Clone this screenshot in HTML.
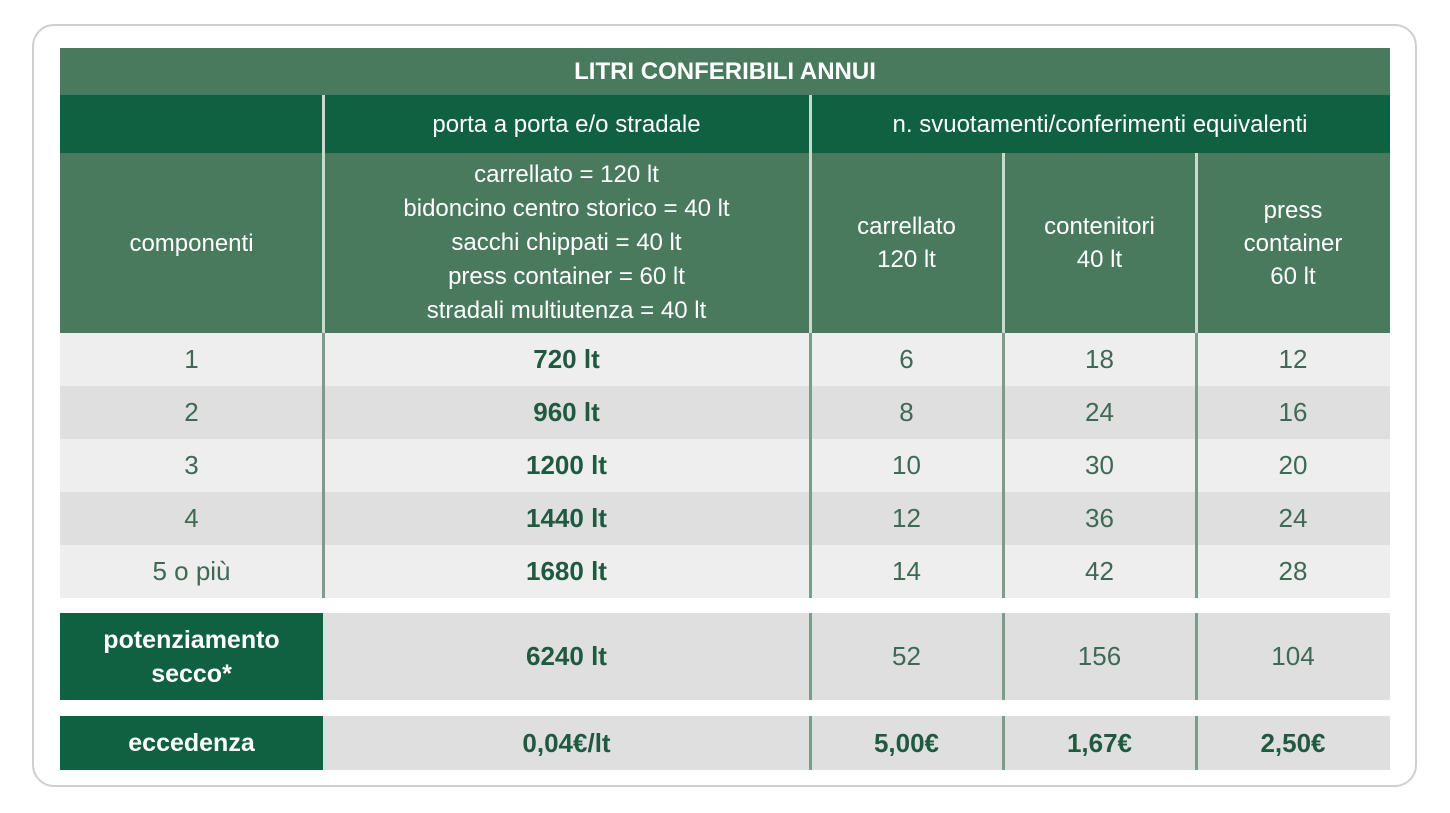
<!DOCTYPE html><html><head><style>
body{margin:0;width:1450px;height:813px;background:#fff;font-family:"Liberation Sans",sans-serif;position:relative;overflow:hidden}
.frame{position:absolute;left:32px;top:24px;width:1385px;height:763px;border:2px solid #cfcfcf;border-radius:22px;box-sizing:border-box}
.c{position:absolute;display:flex;align-items:center;justify-content:center;text-align:center;box-sizing:border-box}
.l{background:#4a7a5e;color:#fff}.d{background:#106042;color:#fff}
.g1{background:#eeeeee}.g2{background:#dfdfdf}
.t{color:#3d6a55;font-size:26px}.b{color:#1f5a40;font-weight:bold;font-size:26px}
.h{font-size:24px;line-height:33px}
.vl{position:absolute;width:3px;background:#7a9c8a}
.vw{position:absolute;width:3px;background:#c9d9cf}
</style></head><body>
<div class="frame"></div>
<div class="c l" style="left:60px;top:48px;width:1330px;height:47px;font-size:24px;font-weight:bold">LITRI CONFERIBILI ANNUI</div>
<div class="c d h" style="left:60px;top:95px;width:1330px;height:58px"></div>
<div class="c d h" style="left:323px;top:95px;width:487px;height:58px">porta a porta e/o stradale</div>
<div class="c d h" style="left:810px;top:95px;width:580px;height:58px">n. svuotamenti/conferimenti equivalenti</div>
<div class="c l h" style="left:60px;top:153px;width:263px;height:180px">componenti</div>
<div class="c l h" style="left:323px;top:153px;width:487px;height:180px;line-height:34px">carrellato = 120 lt<br>bidoncino centro storico = 40 lt<br>sacchi chippati = 40 lt<br>press container = 60 lt<br>stradali multiutenza = 40 lt</div>
<div class="c l h" style="left:810px;top:153px;width:193px;height:180px">carrellato<br>120 lt</div>
<div class="c l h" style="left:1003px;top:153px;width:193px;height:180px">contenitori<br>40 lt</div>
<div class="c l h" style="left:1196px;top:153px;width:194px;height:180px">press<br>container<br>60 lt</div>
<div class="vw" style="left:322px;top:95px;height:238px"></div>
<div class="vw" style="left:809px;top:95px;height:238px"></div>
<div class="vw" style="left:1002px;top:153px;height:180px"></div>
<div class="vw" style="left:1195px;top:153px;height:180px"></div>

<div class="c g1" style="left:60px;top:333px;width:1330px;height:53px"></div>
<div class="c g2" style="left:60px;top:386px;width:1330px;height:53px"></div>
<div class="c g1" style="left:60px;top:439px;width:1330px;height:53px"></div>
<div class="c g2" style="left:60px;top:492px;width:1330px;height:53px"></div>
<div class="c g1" style="left:60px;top:545px;width:1330px;height:53px"></div>
<div class="c g2" style="left:323px;top:613px;width:1067px;height:87px"></div>
<div class="c g2" style="left:323px;top:716px;width:1067px;height:54px"></div>

<!-- rows -->
<div class="c t" style="left:60px;top:333px;width:263px;height:53px">1</div>
<div class="c b" style="left:323px;top:333px;width:487px;height:53px">720 lt</div>
<div class="c t" style="left:810px;top:333px;width:193px;height:53px">6</div>
<div class="c t" style="left:1003px;top:333px;width:193px;height:53px">18</div>
<div class="c t" style="left:1196px;top:333px;width:194px;height:53px">12</div>

<div class="c t" style="left:60px;top:386px;width:263px;height:53px">2</div>
<div class="c b" style="left:323px;top:386px;width:487px;height:53px">960 lt</div>
<div class="c t" style="left:810px;top:386px;width:193px;height:53px">8</div>
<div class="c t" style="left:1003px;top:386px;width:193px;height:53px">24</div>
<div class="c t" style="left:1196px;top:386px;width:194px;height:53px">16</div>

<div class="c t" style="left:60px;top:439px;width:263px;height:53px">3</div>
<div class="c b" style="left:323px;top:439px;width:487px;height:53px">1200 lt</div>
<div class="c t" style="left:810px;top:439px;width:193px;height:53px">10</div>
<div class="c t" style="left:1003px;top:439px;width:193px;height:53px">30</div>
<div class="c t" style="left:1196px;top:439px;width:194px;height:53px">20</div>

<div class="c t" style="left:60px;top:492px;width:263px;height:53px">4</div>
<div class="c b" style="left:323px;top:492px;width:487px;height:53px">1440 lt</div>
<div class="c t" style="left:810px;top:492px;width:193px;height:53px">12</div>
<div class="c t" style="left:1003px;top:492px;width:193px;height:53px">36</div>
<div class="c t" style="left:1196px;top:492px;width:194px;height:53px">24</div>

<div class="c t" style="left:60px;top:545px;width:263px;height:53px">5 o più</div>
<div class="c b" style="left:323px;top:545px;width:487px;height:53px">1680 lt</div>
<div class="c t" style="left:810px;top:545px;width:193px;height:53px">14</div>
<div class="c t" style="left:1003px;top:545px;width:193px;height:53px">42</div>
<div class="c t" style="left:1196px;top:545px;width:194px;height:53px">28</div>

<div class="c d" style="left:60px;top:613px;width:263px;height:87px;font-size:25px;font-weight:bold;line-height:34px">potenziamento<br>secco*</div>
<div class="c b" style="left:323px;top:613px;width:487px;height:87px">6240 lt</div>
<div class="c t" style="left:810px;top:613px;width:193px;height:87px">52</div>
<div class="c t" style="left:1003px;top:613px;width:193px;height:87px">156</div>
<div class="c t" style="left:1196px;top:613px;width:194px;height:87px">104</div>

<div class="c d" style="left:60px;top:716px;width:263px;height:54px;font-size:25px;font-weight:bold">eccedenza</div>
<div class="c b" style="left:323px;top:716px;width:487px;height:54px">0,04€/lt</div>
<div class="c b" style="left:810px;top:716px;width:193px;height:54px">5,00€</div>
<div class="c b" style="left:1003px;top:716px;width:193px;height:54px">1,67€</div>
<div class="c b" style="left:1196px;top:716px;width:194px;height:54px">2,50€</div>

<div class="vl" style="left:322px;top:333px;height:265px"></div>
<div class="vl" style="left:809px;top:333px;height:265px"></div>
<div class="vl" style="left:1002px;top:333px;height:265px"></div>
<div class="vl" style="left:1195px;top:333px;height:265px"></div>
<div class="vl" style="left:809px;top:613px;height:87px"></div>
<div class="vl" style="left:1002px;top:613px;height:87px"></div>
<div class="vl" style="left:1195px;top:613px;height:87px"></div>
<div class="vl" style="left:809px;top:716px;height:54px"></div>
<div class="vl" style="left:1002px;top:716px;height:54px"></div>
<div class="vl" style="left:1195px;top:716px;height:54px"></div>
</body></html>
